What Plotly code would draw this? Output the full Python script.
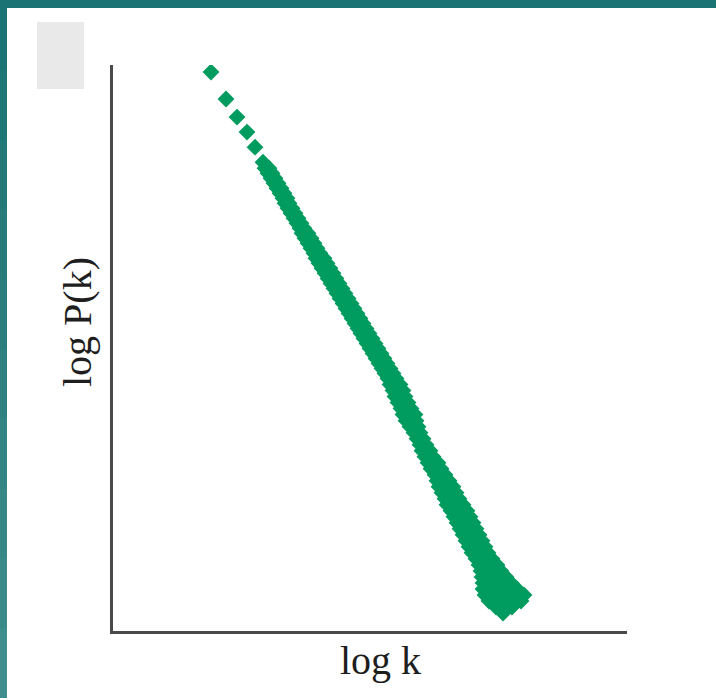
import plotly.graph_objects as go

# Degree distribution on log-log axes: log k (x) vs log P(k) (y)

# Sparse low-degree points
sparse_log_k = [0.98, 1.13, 1.24, 1.34, 1.42, 1.50]
sparse_log_pk = [-0.07, -0.34, -0.52, -0.67, -0.82, -0.97]

# Dense middle section: readings at each level span a narrow range of log k
mid_log_pk = [-1.03, -1.08, -1.13, -1.18, -1.23, -1.28, -1.33, -1.38, -1.43, -1.48,
              -1.53, -1.58, -1.63, -1.68, -1.73, -1.78, -1.83, -1.88, -1.93, -1.98,
              -2.03, -2.08, -2.13, -2.18, -2.23, -2.28, -2.33, -2.38, -2.43, -2.48,
              -2.53, -2.58, -2.63, -2.68, -2.73, -2.78, -2.83, -2.88, -2.93, -2.98,
              -3.03, -3.08, -3.13]
mid_log_k_low = [1.52, 1.55, 1.58, 1.61, 1.64, 1.67, 1.70, 1.72, 1.75, 1.78,
                 1.81, 1.84, 1.87, 1.89, 1.92, 1.95, 1.98, 2.01, 2.03, 2.06,
                 2.09, 2.12, 2.15, 2.18, 2.21, 2.24, 2.27, 2.30, 2.33, 2.36,
                 2.39, 2.42, 2.45, 2.48, 2.51, 2.54, 2.57, 2.60, 2.63, 2.66,
                 2.69, 2.72, 2.75]
mid_log_k_high = [1.56, 1.59, 1.62, 1.65, 1.68, 1.71, 1.74, 1.76, 1.79, 1.82,
                  1.85, 1.88, 1.91, 1.95, 1.98, 2.01, 2.04, 2.07, 2.11, 2.14,
                  2.17, 2.20, 2.23, 2.26, 2.29, 2.32, 2.35, 2.38, 2.41, 2.44,
                  2.47, 2.50, 2.53, 2.56, 2.59, 2.62, 2.65, 2.68, 2.71, 2.74,
                  2.77, 2.80, 2.83]

# High-degree tail: noisier, three readings per level
tail_log_pk = [-3.19, -3.25, -3.31, -3.37, -3.43, -3.49, -3.55, -3.61, -3.67, -3.73,
               -3.79, -3.85, -3.91, -3.97, -4.03, -4.09, -4.15, -4.21, -4.27, -4.33,
               -4.39, -4.45, -4.51, -4.57, -4.63, -4.69, -4.75, -4.81, -4.87, -4.93,
               -4.99, -5.05, -5.11, -5.17, -5.23, -5.29, -5.35, -5.41]
tail_log_k_low = [2.77, 2.80, 2.82, 2.85, 2.88, 2.90, 2.93, 2.97, 3.01, 3.04,
                  3.07, 3.09, 3.12, 3.15, 3.18, 3.22, 3.24, 3.26, 3.29, 3.32,
                  3.34, 3.38, 3.41, 3.44, 3.47, 3.50, 3.53, 3.56, 3.59, 3.63,
                  3.66, 3.68, 3.69, 3.70, 3.70, 3.72, 3.76, 3.83]
tail_log_k_mid = [2.82, 2.85, 2.87, 2.90, 2.93, 2.96, 2.98, 3.01, 3.04, 3.07,
                  3.10, 3.13, 3.16, 3.20, 3.23, 3.27, 3.30, 3.33, 3.36, 3.39,
                  3.42, 3.46, 3.49, 3.52, 3.55, 3.58, 3.61, 3.64, 3.67, 3.71,
                  3.75, 3.78, 3.81, 3.84, 3.87, 3.90, 3.92, 3.91]
tail_log_k_high = [2.87, 2.90, 2.92, 2.95, 2.98, 3.02, 3.03, 3.05, 3.07, 3.10,
                   3.13, 3.17, 3.20, 3.25, 3.28, 3.32, 3.36, 3.40, 3.43, 3.46,
                   3.50, 3.54, 3.57, 3.60, 3.63, 3.66, 3.69, 3.72, 3.75, 3.79,
                   3.84, 3.88, 3.93, 3.98, 4.04, 4.11, 4.08, 3.99]

# Cluster at the largest degrees
end_log_k = [3.77, 3.91, 3.79, 3.96, 3.81, 4.00, 3.83, 3.99, 3.90]
end_log_pk = [-5.17, -5.17, -5.23, -5.23, -5.29, -5.29, -5.35, -5.35, -5.47]

log_k = (sparse_log_k + mid_log_k_low + mid_log_k_high
         + tail_log_k_low + tail_log_k_mid + tail_log_k_high + end_log_k)
log_pk = (sparse_log_pk + mid_log_pk + mid_log_pk
          + tail_log_pk + tail_log_pk + tail_log_pk + end_log_pk)

GREEN = "#009B5E"
TEAL = "#1B7373"
W, H = 716, 698

fig = go.Figure()
fig.add_trace(go.Scatter(
    x=log_k, y=log_pk, mode="markers",
    marker=dict(symbol="diamond", size=13, color=GREEN, line=dict(width=0)),
    hoverinfo="skip", showlegend=False,
))

axis_common = dict(showgrid=False, zeroline=False, showticklabels=False,
                   ticks="", showline=True, linecolor="#4a4a4a", linewidth=3,
                   fixedrange=True)
fig.update_xaxes(range=[0, 5.14], domain=[113 / W, 627 / W], **axis_common)
fig.update_yaxes(range=[-5.65, 0], domain=[(H - 631) / H, (H - 65) / H], **axis_common)

shapes = []
# left band of the frame, lightening downward
left_cols = ["#1b7373", "#1f7676", "#237878", "#277b7b", "#2b7e7e",
             "#2f8181", "#338484", "#378787", "#3b8a8a", "#3f8d8d"]
n = len(left_cols)
for i, c in enumerate(left_cols):
    shapes.append(dict(type="rect", xref="paper", yref="paper",
                       x0=0, x1=7 / W,
                       y0=max(0, 1 - (i + 1) / n - 0.01), y1=1 - i / n,
                       fillcolor=c, line=dict(width=0), layer="above"))
# top band of the frame
shapes.append(dict(type="rect", xref="paper", yref="paper",
                   x0=0, x1=1, y0=1 - 8 / H, y1=1,
                   fillcolor=TEAL, line=dict(width=0), layer="above"))
# grey tab in the corner
shapes.append(dict(type="rect", xref="paper", yref="paper",
                   x0=37 / W, x1=84 / W, y0=1 - 89 / H, y1=1 - 22 / H,
                   fillcolor="#e9e9e9", line=dict(width=0), layer="below"))

label_font = dict(family="Liberation Serif, Times New Roman, serif", size=40, color="#1e1e1e")
annotations = [
    dict(text="log k", xref="paper", yref="paper", x=381 / W, y=1 - 660 / H,
         xanchor="center", yanchor="middle", showarrow=False, font=label_font),
    dict(text="log P(k)", xref="paper", yref="paper", x=77 / W, y=1 - 322 / H,
         xanchor="center", yanchor="middle", showarrow=False, textangle=-90,
         font=label_font),
]

fig.update_layout(
    width=W, height=H, margin=dict(l=0, r=0, t=0, b=0),
    paper_bgcolor="white", plot_bgcolor="white",
    shapes=shapes, annotations=annotations, showlegend=False,
)

fig.write_html("out.html", config={"displayModeBar": False})
